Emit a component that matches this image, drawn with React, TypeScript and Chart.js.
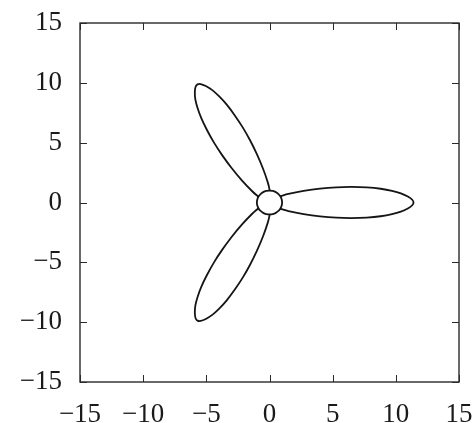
import React, { useEffect, useRef } from "react";
import { Chart, registerables } from "chart.js";

Chart.register(...registerables);

// Tick values on both axes
const xTicks = [-15, -10, -5, 0, 5, 10, 15];
const yTicks = [-15, -10, -5, 0, 5, 10, 15];

// Right blade
const bladeRightX = [0.86, 1.5, 2.7, 4.0, 5.3, 6.5, 7.7, 8.8, 9.7, 10.4, 10.95, 11.3, 11.4, 11.3, 10.95, 10.4, 9.7, 8.8, 7.7, 6.5, 5.3, 4.0, 2.7, 1.5, 0.86];
const bladeRightY = [0.52, 0.72, 0.97, 1.16, 1.27, 1.30, 1.26, 1.15, 0.98, 0.77, 0.50, 0.23, 0, -0.23, -0.50, -0.77, -0.98, -1.15, -1.26, -1.30, -1.27, -1.16, -0.97, -0.72, -0.52];

// Upper-left blade
const bladeUpX = [-0.88, -1.37, -2.19, -3.00, -3.75, -4.38, -4.94, -5.40, -5.70, -5.87, -5.91, -5.85, -5.70, -5.45, -5.04, -4.53, -4.00, -3.40, -2.76, -2.12, -1.55, -1.00, -0.51, -0.13, 0.02];
const bladeUpY = [0.48, 0.94, 1.85, 2.88, 3.96, 4.98, 6.04, 7.05, 7.91, 8.62, 9.23, 9.67, 9.87, 9.90, 9.73, 9.39, 8.89, 8.20, 7.30, 6.28, 5.22, 4.04, 2.82, 1.66, 1.00];

// Lower-left blade
const bladeDownX = [0.02, -0.13, -0.51, -1.00, -1.55, -2.12, -2.76, -3.40, -4.00, -4.53, -5.04, -5.45, -5.70, -5.85, -5.91, -5.87, -5.70, -5.40, -4.94, -4.38, -3.75, -3.00, -2.19, -1.37, -0.88];
const bladeDownY = [-1.00, -1.66, -2.82, -4.04, -5.22, -6.28, -7.30, -8.20, -8.89, -9.39, -9.73, -9.90, -9.87, -9.67, -9.23, -8.62, -7.91, -7.05, -6.04, -4.98, -3.96, -2.88, -1.85, -0.94, -0.48];

// Hub circle
const hubX = [1, 0.966, 0.866, 0.707, 0.5, 0.259, 0, -0.259, -0.5, -0.707, -0.866, -0.966, -1, -0.966, -0.866, -0.707, -0.5, -0.259, 0, 0.259, 0.5, 0.707, 0.866, 0.966, 1];
const hubY = [0, 0.259, 0.5, 0.707, 0.866, 0.966, 1, 0.966, 0.866, 0.707, 0.5, 0.259, 0, -0.259, -0.5, -0.707, -0.866, -0.966, -1, -0.966, -0.866, -0.707, -0.5, -0.259, 0];

const toPts = (xs: number[], ys: number[]) => xs.map((x, i) => ({ x, y: ys[i] }));

const fmt = (v: number) => (v < 0 ? "\u2212" + Math.abs(v) : String(v));

const FONT = "'Liberation Serif', 'Times New Roman', serif";

const framePlugin = {
  id: "frameTicks",
  afterDraw(chart: any) {
    const { ctx, chartArea } = chart;
    const { left, right, top, bottom } = chartArea;
    const xs = chart.scales.x;
    const ys = chart.scales.y;
    const len = 7;
    ctx.save();
    ctx.strokeStyle = "#2a2a2a";
    ctx.lineWidth = 1.4;
    ctx.strokeRect(left, top, right - left, bottom - top);
    ctx.lineWidth = 1;
    ctx.beginPath();
    xTicks.forEach((v) => {
      const px = Math.round(xs.getPixelForValue(v)) + 0.5;
      ctx.moveTo(px, bottom);
      ctx.lineTo(px, bottom - len);
      ctx.moveTo(px, top);
      ctx.lineTo(px, top + len);
    });
    yTicks.forEach((v) => {
      const py = Math.round(ys.getPixelForValue(v)) + 0.5;
      ctx.moveTo(left, py);
      ctx.lineTo(left + len, py);
      ctx.moveTo(right, py);
      ctx.lineTo(right - len, py);
    });
    ctx.stroke();
    ctx.restore();
  },
};

export default function App() {
  const ref = useRef<HTMLCanvasElement | null>(null);

  useEffect(() => {
    if (!ref.current) return;
    const lineStyle = {
      borderColor: "#151515",
      borderWidth: 1.8,
      pointRadius: 0,
      showLine: true,
      tension: 0.4,
      fill: false,
    };
    const chart = new Chart(ref.current, {
      type: "scatter",
      data: {
        datasets: [
          { ...lineStyle, data: toPts(bladeRightX, bladeRightY) },
          { ...lineStyle, data: toPts(bladeUpX, bladeUpY) },
          { ...lineStyle, data: toPts(bladeDownX, bladeDownY) },
          { ...lineStyle, data: toPts(hubX, hubY) },
        ],
      },
      options: {
        animation: false,
        responsive: false,
        devicePixelRatio: 1,
        layout: { padding: { left: 0, right: 17, top: 23, bottom: 0 } },
        plugins: { legend: { display: false }, tooltip: { enabled: false } },
        scales: {
          x: {
            type: "linear",
            min: -15,
            max: 15,
            afterBuildTicks: (s: any) => {
              s.ticks = xTicks.map((v) => ({ value: v }));
            },
            afterFit: (s: any) => {
              s.height = 41;
              s.paddingLeft = 0;
              s.paddingRight = 0;
            },
            grid: { display: false, drawTicks: false },
            border: { display: false },
            ticks: {
              color: "#1a1a1a",
              font: { family: FONT, size: 27 },
              padding: 17,
              maxRotation: 0,
              autoSkip: false,
              callback: (v: any) => fmt(Number(v)),
            },
          },
          y: {
            type: "linear",
            min: -15,
            max: 15,
            afterBuildTicks: (s: any) => {
              s.ticks = yTicks.map((v) => ({ value: v }));
            },
            afterFit: (s: any) => {
              s.width = 80;
              s.paddingTop = 0;
              s.paddingBottom = 0;
            },
            grid: { display: false, drawTicks: false },
            border: { display: false },
            ticks: {
              color: "#1a1a1a",
              font: { family: FONT, size: 27 },
              padding: 18,
              autoSkip: false,
              callback: (v: any) => fmt(Number(v)),
            },
          },
        },
      },
      plugins: [framePlugin],
    });
    return () => chart.destroy();
  }, []);

  return (
    <div style={{ position: "fixed", left: 0, top: 0, width: 476, height: 423, background: "#fff" }}>
      <canvas ref={ref} width={476} height={423} />
    </div>
  );
}
